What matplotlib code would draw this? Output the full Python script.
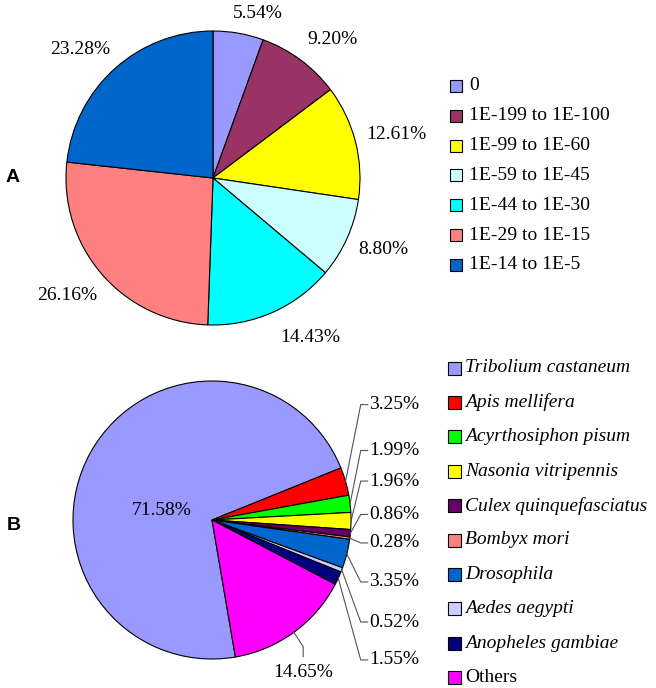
import numpy as np
import matplotlib.pyplot as plt
from matplotlib.patches import Rectangle

plt.rcParams['font.family'] = ['Liberation Serif', 'DejaVu Serif']

# panel A: distribution of blast e-values
evalue_bins = ['0', '1E-199 to 1E-100', '1E-99 to 1E-60', '1E-59 to 1E-45',
               '1E-44 to 1E-30', '1E-29 to 1E-15', '1E-14 to 1E-5']
evalue_pct = [5.54, 9.20, 12.61, 8.80, 14.43, 26.16, 23.28]
evalue_colors = ['#9999FF', '#993366', '#FFFF00', '#CCFFFF',
                 '#00FFFF', '#FF8080', '#0066CC']

# panel B: top-hit species
species = ['Tribolium castaneum', 'Apis mellifera', 'Acyrthosiphon pisum',
           'Nasonia vitripennis', 'Culex quinquefasciatus', 'Bombyx mori',
           'Drosophila', 'Aedes aegypti', 'Anopheles gambiae', 'Others']
species_pct = [71.58, 3.25, 1.99, 1.96, 0.86, 0.28, 3.35, 0.52, 1.55, 14.65]
species_colors = ['#9999FF', '#FF0000', '#00FF00', '#FFFF00', '#660066',
                  '#FF8080', '#0066CC', '#CCCCFF', '#000080', '#FF00FF']

H = 688
fig = plt.figure(figsize=(6.56, 6.88), dpi=100)
ax = fig.add_axes([0, 0, 1, 1])

edge = dict(edgecolor='black', linewidth=0.8)
fs = 14

# ---- pie A ----
ca = (213, H - 178)
ra = 147
ax.pie(evalue_pct, colors=evalue_colors, center=ca, radius=ra,
       startangle=90, counterclock=False, wedgeprops=edge)
# label placement (in radius units), roughly where excel put them
lab_a = [(0.306, 1.122), (0.81, 0.94), (1.245, 0.293), (1.156, -0.483),
         (0.66, -1.088), (-0.993, -0.796), (-0.905, 0.871)]
for v, (lx, ly) in zip(evalue_pct, lab_a):
    ax.text(ca[0] + lx * ra, ca[1] + ly * ra, '%.2f%%' % v,
            ha='center', va='center', fontsize=fs)

# legend A
for i, (lab, col) in enumerate(zip(evalue_bins, evalue_colors)):
    yc = H - (86 + 29.8 * i)
    ax.add_patch(Rectangle((450, yc - 6), 12, 12, facecolor=col,
                           edgecolor='black', linewidth=0.8))
    ax.text(469, yc, lab, ha='left', va='center', fontsize=fs)

# ---- pie B ----
cb = (212, H - 520)
rb = 139
wedges, _ = ax.pie(species_pct, colors=species_colors, center=cb, radius=rb,
                   startangle=279.7, counterclock=False, wedgeprops=edge)
ax.text(cb[0] - 0.36 * rb, cb[1] + 0.07 * rb, '%.2f%%' % species_pct[0],
        ha='center', va='center', fontsize=fs)

# leader lines for the thin slices, labels stacked on the right
lab_b_y = [0.83, 0.50, 0.28, 0.04, -0.165, -0.446, -0.734, -1.007]
lc = '#555555'
for w, v, ly in zip(wedges[1:9], species_pct[1:9], lab_b_y):
    m = np.deg2rad((w.theta1 + w.theta2) / 2)
    xs = [cb[0] + rb * np.cos(m), cb[0] + 1.07 * rb, cb[0] + 1.12 * rb]
    ys = [cb[1] + rb * np.sin(m), cb[1] + ly * rb, cb[1] + ly * rb]
    ax.plot(xs, ys, color=lc, lw=0.8)
    ax.text(cb[0] + 1.13 * rb, cb[1] + ly * rb, '%.2f%%' % v,
            ha='left', va='center', fontsize=fs)

w = wedges[9]
m = np.deg2rad((w.theta1 + w.theta2) / 2)
xs = [cb[0] + rb * np.cos(m), cb[0] + 0.656 * rb, cb[0] + 0.656 * rb]
ys = [cb[1] + rb * np.sin(m), cb[1] - 0.911 * rb, cb[1] - 0.983 * rb]
ax.plot(xs, ys, color=lc, lw=0.8)
ax.text(cb[0] + 0.655 * rb, cb[1] - 1.10 * rb, '%.2f%%' % species_pct[9],
        ha='center', va='center', fontsize=fs)

# legend B
for i, (lab, col) in enumerate(zip(species, species_colors)):
    yc = H - (368 + 34.4 * i)
    ax.add_patch(Rectangle((448, yc - 6.5), 13, 13, facecolor=col,
                           edgecolor='black', linewidth=0.8))
    style = 'normal' if lab == 'Others' else 'italic'
    ax.text(465, yc, lab, ha='left', va='center', fontsize=fs, style=style)

# panel letters
ax.text(13, H - 178, 'A', ha='center', va='center', fontsize=14,
        fontweight='bold', family='Liberation Sans')
ax.text(14, H - 525, 'B', ha='center', va='center', fontsize=14,
        fontweight='bold', family='Liberation Sans')

ax.set_xlim(0, 656)
ax.set_ylim(0, H)
ax.set_aspect('equal')
ax.axis('off')

fig.savefig('out.png', dpi=100)
